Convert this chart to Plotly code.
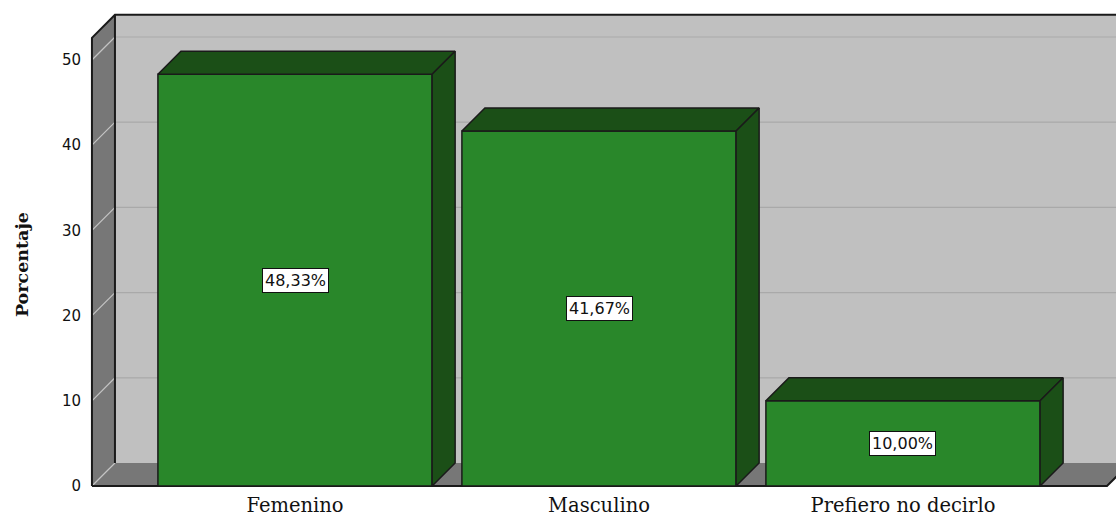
import plotly.graph_objects as go

# Data
categories = ["Femenino", "Masculino", "Prefiero no decirlo"]
porcentajes = [48.33, 41.67, 10.00]
y_ticks = [0, 10, 20, 30, 40, 50]

# 3D box geometry (data units)
X_LEFT, X_RIGHT = -0.668, 2.671   # front plane extent of the category axis
Y_TOP = 52.6                      # top of the walls
DX, DY = 0.0757, 2.70             # depth offset (x units, y units)
HALF_W = 0.451                    # half width of a bar

WALL_BACK = "#C0C0C0"
WALL_SIDE = "#777777"
GRID_BACK = "#A9A9A9"
GRID_SIDE = "#C4C4C4"
EDGE = "#1A1A1A"
BAR_FRONT = "#29872A"
BAR_DARK = "#1B4F17"

fig = go.Figure()


def poly(xs, ys, fill, line_color=None, width=1.5):
    fig.add_trace(go.Scatter(
        x=list(xs) + [xs[0]], y=list(ys) + [ys[0]], mode="lines",
        fill="toself", fillcolor=fill,
        line=dict(color=line_color or fill, width=width if line_color else 0),
        hoverinfo="skip", showlegend=False))


def seg(xs, ys, color, width=1.0):
    fig.add_trace(go.Scatter(
        x=xs, y=ys, mode="lines", line=dict(color=color, width=width),
        hoverinfo="skip", showlegend=False))


# back wall
poly([X_LEFT + DX, X_RIGHT + DX, X_RIGHT + DX, X_LEFT + DX],
     [DY, DY, Y_TOP + DY, Y_TOP + DY], WALL_BACK)
for v in y_ticks[1:]:
    seg([X_LEFT + DX, X_RIGHT + DX], [v + DY, v + DY], GRID_BACK, 1.2)

# left wall and floor
poly([X_LEFT, X_LEFT + DX, X_LEFT + DX, X_LEFT],
     [0, DY, Y_TOP + DY, Y_TOP], WALL_SIDE)
poly([X_LEFT, X_RIGHT, X_RIGHT + DX, X_LEFT + DX],
     [0, 0, DY, DY], WALL_SIDE)
for v in y_ticks:
    seg([X_LEFT, X_LEFT + DX], [v, v + DY], GRID_SIDE, 1.2)

# box outline
seg([X_LEFT + DX, X_LEFT + DX], [DY, Y_TOP + DY], EDGE, 2)
seg([X_LEFT, X_LEFT, X_LEFT + DX, X_RIGHT + DX],
    [0, Y_TOP, Y_TOP + DY, Y_TOP + DY], EDGE, 2)
seg([X_LEFT, X_RIGHT, X_RIGHT + DX], [0, 0, DY], EDGE, 2)

# bars
for i, v in enumerate(porcentajes):
    l, r = i - HALF_W, i + HALF_W
    poly([l, r, r, l], [0, 0, v, v], BAR_FRONT, EDGE)
    poly([l, r, r + DX, l + DX], [v, v, v + DY, v + DY], BAR_DARK, EDGE)
    poly([r, r + DX, r + DX, r], [0, DY, v + DY, v], BAR_DARK, EDGE)

annotations = []
for i, v in enumerate(porcentajes):
    annotations.append(dict(
        x=i, y=v / 2, xref="x", yref="y", showarrow=False,
        text=f"{v:.2f}".replace(".", ",") + "%",
        font=dict(family="DejaVu Sans", size=16, color="#111111"),
        bgcolor="white", bordercolor="#111111", borderwidth=1, borderpad=2))

annotations.append(dict(
    text="<b>Porcentaje</b>", xref="paper", yref="paper",
    x=-0.0642, y=0.459, xanchor="center", yanchor="middle",
    textangle=-90, showarrow=False,
    font=dict(family="DejaVu Serif", size=17.5, color="#111111")))

fig.update_layout(
    width=1116, height=518,
    margin=dict(l=88, r=0, t=0, b=28),
    paper_bgcolor="white", plot_bgcolor="white",
    showlegend=False, hovermode=False,
    annotations=annotations,
    xaxis=dict(range=[-0.681, 2.7007], showgrid=False, zeroline=False,
               showline=False, ticks="", tickvals=[0, 1, 2],
               ticktext=categories, ticklabelstandoff=1, automargin=False,
               tickfont=dict(family="DejaVu Serif", size=19.5, color="#111111")),
    yaxis=dict(range=[-0.469, 57.04], showgrid=False, zeroline=False,
               showline=False, ticks="", tickvals=y_ticks,
               ticklabelstandoff=6, automargin=False,
               tickfont=dict(family="DejaVu Sans", size=15, color="#111111")),
)

fig.write_html("out.html")
